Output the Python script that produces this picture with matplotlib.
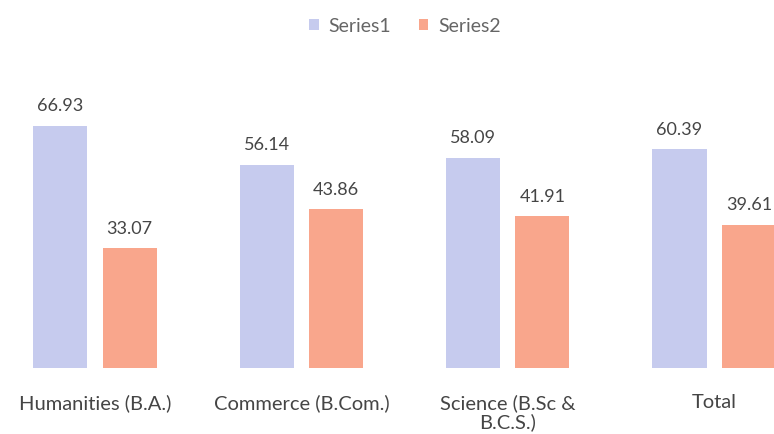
import numpy as np
import matplotlib
matplotlib.use("Agg")
import matplotlib.pyplot as plt

categories = ["Humanities (B.A.)", "Commerce (B.Com.)", "Science (B.Sc &\nB.C.S.)", "Total"]
series1 = [66.93, 56.14, 58.09, 60.39]
series2 = [33.07, 43.86, 41.91, 39.61]
series_names = ["Series1", "Series2"]

c1 = "#c6cbee"
c2 = "#f9a68c"
txt = "#454545"

plt.rcParams["font.family"] = ["Lato", "DejaVu Sans"]

fig = plt.figure(figsize=(7.74, 4.35), dpi=100)
ax = fig.add_axes([0, 66 / 435, 1, 290 / 435])

x = np.arange(len(categories))
w = 0.262
off = 0.168
b1 = ax.bar(x - off, series1, w, color=c1, label=series_names[0])
b2 = ax.bar(x + off, series2, w, color=c2, label=series_names[1])
for bars in (b1, b2):
    ax.bar_label(bars, labels=[f"{v:.2f}" for v in bars.datavalues],
                 padding=9, fontsize=13, color=txt)

ax.set_xlim(-0.46, 3.29)
ax.set_ylim(0, 80.1)
ax.set_xticks(x)
ax.set_xticklabels(categories, fontsize=14.5, color=txt, linespacing=1.1, va="top")
ax.tick_params(axis="x", length=0, pad=18)
ax.set_yticks([])
for s in ax.spines.values():
    s.set_visible(False)

fig.legend(loc="center", bbox_to_anchor=(405 / 774, 1 - 27 / 435), ncol=2,
           frameon=False, fontsize=14, labelcolor="#666666",
           handlelength=0.5, handleheight=0.5, handletextpad=0.5, columnspacing=1.4)

plt.savefig("out.png", dpi=100)
plt.close()
